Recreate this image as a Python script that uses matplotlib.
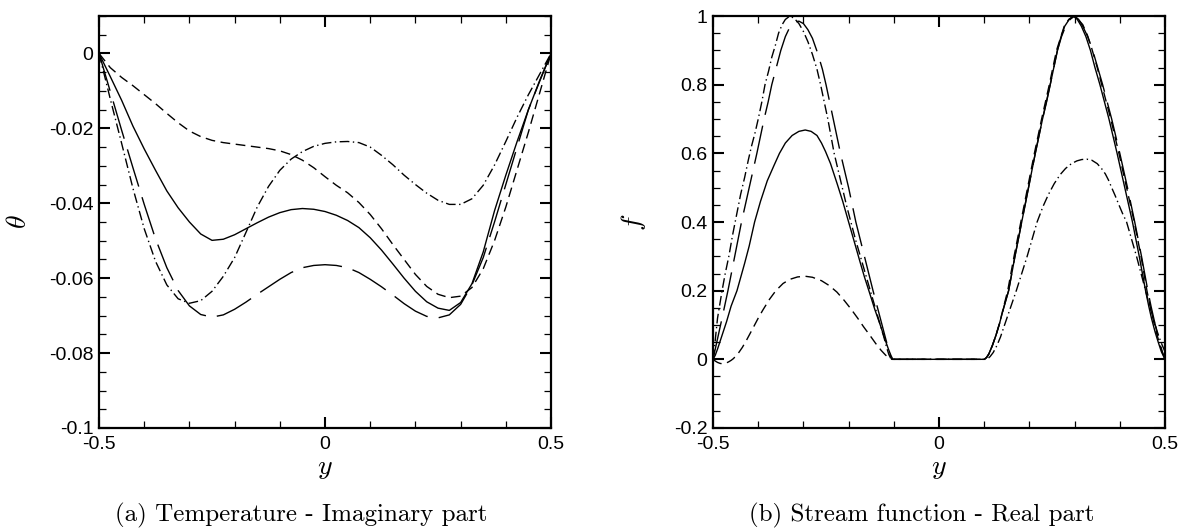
import numpy as np
import matplotlib
matplotlib.use("Agg")
import matplotlib.pyplot as plt
from matplotlib.ticker import MultipleLocator, FuncFormatter

plt.rcParams["font.family"] = ["Liberation Sans", "DejaVu Sans"]
plt.rcParams["mathtext.fontset"] = "cm"
plt.rcParams["axes.unicode_minus"] = False

# (a) temperature, imaginary part: theta on a common y grid
a_y = [-0.5, -0.475, -0.45, -0.425, -0.4, -0.375, -0.35, -0.325, -0.3, -0.275,
       -0.25, -0.225, -0.2, -0.175, -0.15, -0.125, -0.1, -0.075, -0.05, -0.025,
       0.0, 0.025, 0.05, 0.075, 0.1, 0.125, 0.15, 0.175, 0.2, 0.225,
       0.25, 0.275, 0.3, 0.325, 0.35, 0.375, 0.4, 0.425, 0.45, 0.475, 0.5]
a_solid = [0.0, -0.0062, -0.0125, -0.0194, -0.0255, -0.0312, -0.0367, -0.0412, -0.0450, -0.0482,
           -0.0499, -0.0496, -0.0484, -0.0468, -0.0452, -0.0437, -0.0425, -0.0417, -0.0414, -0.0416,
           -0.0422, -0.0432, -0.0446, -0.0465, -0.0492, -0.0525, -0.0562, -0.0600, -0.0635, -0.0663,
           -0.0680, -0.0686, -0.0665, -0.0615, -0.0530, -0.0420, -0.0325, -0.0235, -0.0150, -0.0072, 0.0]
a_short = [0.0, -0.0038, -0.0064, -0.0086, -0.0110, -0.0134, -0.0160, -0.0185, -0.0207, -0.0222,
           -0.0232, -0.0238, -0.0242, -0.0246, -0.0250, -0.0254, -0.0260, -0.0270, -0.0285, -0.0305,
           -0.0329, -0.0352, -0.0372, -0.0398, -0.0430, -0.0468, -0.0510, -0.0550, -0.0590, -0.0622,
           -0.0643, -0.0652, -0.0648, -0.0625, -0.0575, -0.0500, -0.0410, -0.0310, -0.0210, -0.0105, 0.0]
a_long = [0.0, -0.0102, -0.0205, -0.0305, -0.0403, -0.0495, -0.0572, -0.0633, -0.0674, -0.0697,
          -0.0704, -0.0698, -0.0683, -0.0664, -0.0643, -0.0623, -0.0603, -0.0585, -0.0572, -0.0566,
          -0.0564, -0.0566, -0.0572, -0.0585, -0.0603, -0.0623, -0.0645, -0.0668, -0.0688, -0.0702,
          -0.0706, -0.0698, -0.0670, -0.0618, -0.0545, -0.0450, -0.0350, -0.0250, -0.0150, -0.0074, 0.0]
a_dashdot = [0.0, -0.0122, -0.0240, -0.0360, -0.0468, -0.0555, -0.0618, -0.0655, -0.0667, -0.0660,
             -0.0635, -0.0595, -0.0545, -0.0478, -0.0410, -0.0355, -0.0312, -0.0282, -0.0262, -0.0248,
             -0.0240, -0.0236, -0.0235, -0.0238, -0.0250, -0.0272, -0.0297, -0.0325, -0.0350, -0.0373,
             -0.0392, -0.0403, -0.0403, -0.0388, -0.0352, -0.0298, -0.0235, -0.0170, -0.0110, -0.0055, 0.0]

# (b) stream function, real part: (y, f)
b_y_solid = [-0.5, -0.495, -0.49, -0.485, -0.48, -0.47, -0.46, -0.447, -0.43, -0.42,
             -0.408, -0.395, -0.38, -0.365, -0.353, -0.34, -0.325, -0.31, -0.296, -0.283,
             -0.27, -0.26, -0.251, -0.24, -0.225, -0.213, -0.2, -0.188, -0.175, -0.165,
             -0.154, -0.142, -0.13, -0.12, -0.112, -0.106, -0.102,
             0.1, 0.105, 0.11, 0.118, 0.126, 0.134, 0.142, 0.154, 0.161, 0.168,
             0.183, 0.198, 0.213, 0.229, 0.238, 0.246, 0.254, 0.262, 0.27, 0.278,
             0.288, 0.297, 0.306, 0.315, 0.325, 0.335, 0.345, 0.356, 0.366, 0.376,
             0.394, 0.411, 0.428, 0.443, 0.45, 0.457, 0.464, 0.47, 0.478, 0.485,
             0.492, 0.5]
b_f_solid = [0.0, 0.012, 0.03, 0.05, 0.07, 0.11, 0.155, 0.2, 0.28, 0.33,
             0.4, 0.46, 0.52, 0.565, 0.6, 0.63, 0.652, 0.664, 0.668, 0.664,
             0.652, 0.63, 0.605, 0.57, 0.51, 0.46, 0.4, 0.345, 0.285, 0.24,
             0.195, 0.145, 0.1, 0.06, 0.03, 0.01, 0.0,
             0.0, 0.005, 0.015, 0.04, 0.07, 0.105, 0.145, 0.2, 0.25, 0.3,
             0.4, 0.5, 0.6, 0.7, 0.75, 0.8, 0.85, 0.9, 0.94, 0.97,
             0.99, 1.0, 0.99, 0.97, 0.94, 0.9, 0.85, 0.8, 0.75, 0.7,
             0.6, 0.5, 0.4, 0.3, 0.25, 0.2, 0.155, 0.12, 0.08, 0.05,
             0.022, 0.0]
b_y_short = [-0.5, -0.495, -0.49, -0.484, -0.478, -0.471, -0.465, -0.46, -0.455, -0.445,
             -0.435, -0.425, -0.412, -0.4, -0.39, -0.375, -0.361, -0.345, -0.33, -0.313,
             -0.296, -0.28, -0.26, -0.243, -0.226, -0.21, -0.195, -0.18, -0.167, -0.153,
             -0.14, -0.128, -0.118, -0.11, -0.104,
             0.1, 0.105, 0.11, 0.118, 0.126, 0.134, 0.142, 0.152, 0.166, 0.181,
             0.196, 0.211, 0.227, 0.244, 0.26, 0.277, 0.287, 0.298, 0.308, 0.318,
             0.328, 0.338, 0.349, 0.36, 0.37, 0.38, 0.398, 0.415, 0.432, 0.447,
             0.46, 0.467, 0.474, 0.481, 0.488, 0.494, 0.5]
b_f_short = [0.0, -0.005, -0.009, -0.012, -0.013, -0.011, -0.007, -0.003, 0.002, 0.016,
             0.035, 0.058, 0.09, 0.12, 0.143, 0.175, 0.2, 0.221, 0.233, 0.24,
             0.242, 0.239, 0.229, 0.215, 0.196, 0.172, 0.147, 0.12, 0.095, 0.07,
             0.046, 0.026, 0.012, 0.004, 0.0,
             0.0, 0.005, 0.015, 0.04, 0.07, 0.105, 0.148, 0.2, 0.3, 0.4,
             0.5, 0.6, 0.7, 0.8, 0.9, 0.97, 0.99, 1.0, 0.99, 0.975,
             0.945, 0.905, 0.855, 0.8, 0.75, 0.7, 0.6, 0.5, 0.4, 0.3,
             0.2, 0.155, 0.115, 0.078, 0.045, 0.02, 0.0]
b_y_long = [-0.5, -0.495, -0.49, -0.48, -0.467, -0.452, -0.437, -0.42, -0.403, -0.387,
            -0.378, -0.37, -0.36, -0.35, -0.34, -0.33, -0.32, -0.31, -0.3, -0.29,
            -0.28, -0.268, -0.258, -0.25, -0.242, -0.234, -0.218, -0.2, -0.184, -0.165,
            -0.146, -0.135, -0.125, -0.117, -0.11, -0.106, -0.104,
            0.1, 0.105, 0.11, 0.118, 0.126, 0.134, 0.142, 0.154, 0.168, 0.183,
            0.198, 0.213, 0.229, 0.246, 0.262, 0.271, 0.28, 0.29, 0.3, 0.309,
            0.318, 0.329, 0.34, 0.351, 0.362, 0.372, 0.382, 0.4, 0.417, 0.433,
            0.448, 0.462, 0.469, 0.475, 0.482, 0.488, 0.494, 0.5]
b_f_long = [0.0, 0.03, 0.06, 0.12, 0.2, 0.3, 0.4, 0.5, 0.6, 0.7,
            0.75, 0.8, 0.85, 0.9, 0.94, 0.968, 0.982, 0.985, 0.978, 0.96,
            0.935, 0.89, 0.845, 0.8, 0.75, 0.7, 0.6, 0.5, 0.4, 0.3,
            0.2, 0.145, 0.095, 0.055, 0.022, 0.005, 0.0,
            0.0, 0.005, 0.015, 0.04, 0.07, 0.105, 0.145, 0.2, 0.3, 0.4,
            0.5, 0.6, 0.7, 0.8, 0.9, 0.94, 0.97, 0.99, 1.0, 0.99,
            0.97, 0.94, 0.9, 0.85, 0.8, 0.75, 0.7, 0.6, 0.5, 0.4,
            0.3, 0.2, 0.155, 0.12, 0.08, 0.05, 0.022, 0.0]
b_y_dashdot = [-0.5, -0.497, -0.494, -0.49, -0.485, -0.48, -0.473, -0.465, -0.457, -0.448,
               -0.439, -0.43, -0.422, -0.415, -0.407, -0.4, -0.392, -0.385, -0.377, -0.37,
               -0.362, -0.355, -0.347, -0.34, -0.33, -0.32, -0.31, -0.3, -0.29, -0.28,
               -0.27, -0.262, -0.254, -0.246, -0.239, -0.232, -0.223, -0.214, -0.205, -0.195,
               -0.185, -0.174, -0.163, -0.152, -0.141, -0.13, -0.122, -0.116, -0.111, -0.107,
               -0.104,
               0.104, 0.108, 0.113, 0.12, 0.128, 0.136, 0.145, 0.158, 0.171, 0.183,
               0.195, 0.206, 0.217, 0.23, 0.242, 0.255, 0.268, 0.28, 0.293, 0.305,
               0.316, 0.327, 0.338, 0.35, 0.36, 0.368, 0.375, 0.382, 0.39, 0.398,
               0.406, 0.415, 0.426, 0.437, 0.447, 0.457, 0.466, 0.475, 0.483, 0.491,
               0.5]
b_f_dashdot = [0.0, 0.03, 0.07, 0.12, 0.16, 0.2, 0.25, 0.3, 0.36, 0.42,
               0.48, 0.53, 0.58, 0.62, 0.66, 0.7, 0.75, 0.8, 0.84, 0.88,
               0.915, 0.95, 0.975, 0.99, 1.0, 0.993, 0.978, 0.955, 0.925, 0.888,
               0.845, 0.8, 0.75, 0.7, 0.65, 0.6, 0.55, 0.5, 0.45, 0.4,
               0.35, 0.3, 0.25, 0.2, 0.15, 0.1, 0.065, 0.035, 0.014, 0.003,
               0.0,
               0.0, 0.002, 0.008, 0.02, 0.04, 0.065, 0.1, 0.15, 0.2, 0.25,
               0.3, 0.35, 0.4, 0.445, 0.48, 0.512, 0.538, 0.556, 0.57, 0.578,
               0.582, 0.583, 0.58, 0.57, 0.555, 0.54, 0.522, 0.5, 0.476, 0.45,
               0.425, 0.4, 0.35, 0.3, 0.25, 0.2, 0.155, 0.115, 0.08, 0.05,
               0.022]

captions = ["(a) Temperature - Imaginary part", "(b) Stream function - Real part"]

SHORT = (0, (7, 4))
LONG = (0, (28, 8))
DASHDOT = (0, (7, 2.5, 1, 2.5))


def style_axes(ax, ymin, ymax, ymajor, yminor):
    ax.set_xlim(-0.5, 0.5)
    ax.set_ylim(ymin, ymax)
    ax.xaxis.set_major_locator(MultipleLocator(0.5))
    ax.xaxis.set_minor_locator(MultipleLocator(0.1))
    ax.yaxis.set_major_locator(MultipleLocator(ymajor))
    ax.yaxis.set_minor_locator(MultipleLocator(yminor))
    fmt = FuncFormatter(lambda v, p: "%g" % (round(v, 6) + 0.0))
    ax.xaxis.set_major_formatter(fmt)
    ax.yaxis.set_major_formatter(fmt)
    for s in ax.spines.values():
        s.set_linewidth(1.6)
    ax.tick_params(which="both", direction="in", top=True, right=True, labelsize=14)
    ax.tick_params(which="major", length=8, width=1.5)
    ax.tick_params(which="minor", length=5, width=0.9)
    ax.tick_params(axis="x", pad=6)
    ax.tick_params(axis="y", pad=4)
    ax.set_xlabel(r"$y$", fontsize=20)
    ax.xaxis.set_label_coords(0.5, -0.065)


fig = plt.figure(figsize=(11.86, 5.32), dpi=100)
ax1 = fig.add_axes([0.0835, 0.1955, 0.3811, 0.7744])
ax2 = fig.add_axes([0.6012, 0.1955, 0.3811, 0.7744])

lw = 1.0
ax1.plot(a_y, a_solid, color="black", lw=lw)
ax1.plot(a_y, a_short, color="black", lw=lw, linestyle=SHORT)
ax1.plot(a_y, a_long, color="black", lw=lw, linestyle=LONG)
ax1.plot(a_y, a_dashdot, color="black", lw=lw, linestyle=DASHDOT)
style_axes(ax1, -0.1, 0.01, 0.02, 0.005)
ax1.set_ylabel(r"$\theta$", fontsize=20)
ax1.yaxis.set_label_coords(-0.148, 0.5)

ax2.plot(b_y_solid, b_f_solid, color="black", lw=lw)
ax2.plot(b_y_short, b_f_short, color="black", lw=lw, linestyle=SHORT)
ax2.plot(b_y_long, b_f_long, color="black", lw=lw, linestyle=LONG)
ax2.plot(b_y_dashdot, b_f_dashdot, color="black", lw=lw, linestyle=DASHDOT)
style_axes(ax2, -0.2, 1.0, 0.2, 0.05)
ax2.set_ylabel(r"$f$", fontsize=20)
ax2.yaxis.set_label_coords(-0.144, 0.5)

fig.text(301 / 1186, 1 - 515 / 532, captions[0], family="cmr10", fontsize=18,
         ha="center", va="center")
fig.text(922 / 1186, 1 - 515 / 532, captions[1], family="cmr10", fontsize=18,
         ha="center", va="center")

fig.savefig("out.png", dpi=100)
